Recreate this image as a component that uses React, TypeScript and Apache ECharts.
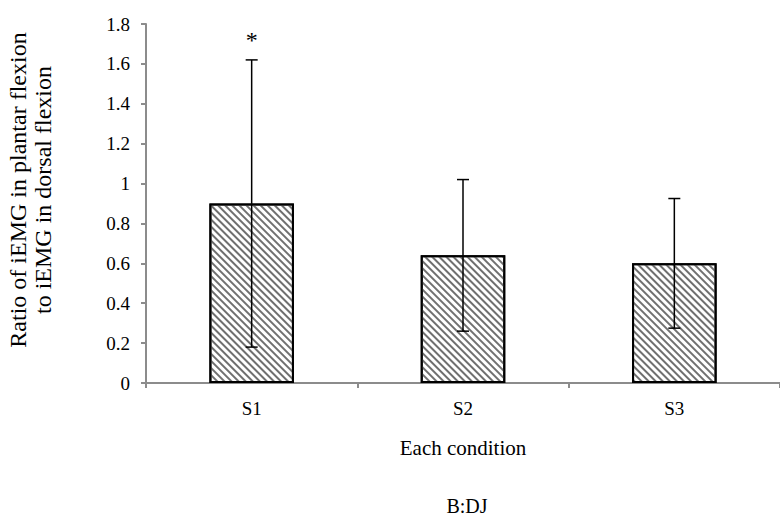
import React, { useEffect, useRef } from "react";
import * as echarts from "echarts";

const categories = ["S1", "S2", "S3"];
const means = [0.9, 0.64, 0.6];
const sds = [0.72, 0.38, 0.325];
const marks = ["*", "", ""];
const yTicks = [0, 0.2, 0.4, 0.6, 0.8, 1, 1.2, 1.4, 1.6, 1.8];
const yTitle = ["Ratio of iEMG in plantar flexion", "to iEMG in dorsal flexion"];
const xTitle = "Each condition";
const panelLabel = "B:DJ";

const FONT = "'Liberation Serif', 'Times New Roman', serif";

export default function App() {
  const ref = useRef<HTMLDivElement>(null);

  useEffect(() => {
    if (!ref.current) return;
    const chart = echarts.init(ref.current, undefined, { renderer: "svg" });

    const errData = categories.map((_, i) => [i, means[i] - sds[i], means[i] + sds[i], i]);

    chart.setOption({
      animation: false,
      backgroundColor: "#ffffff",
      textStyle: { fontFamily: FONT },
      grid: { left: 146, right: -8, top: 24, bottom: 139, containLabel: false },
      title: {
        text: panelLabel,
        left: 467,
        top: 496,
        padding: 0,
        textAlign: "center",
        textStyle: { fontFamily: FONT, fontSize: 20, fontWeight: "normal", color: "#000" },
      },
      graphic: [
        {
          type: "text",
          x: 30,
          y: 190,
          rotation: Math.PI / 2,
          style: {
            text: yTitle.join("\n"),
            textAlign: "center",
            textVerticalAlign: "middle",
            fontFamily: FONT,
            fontSize: 24,
            lineHeight: 25,
            fill: "#000",
          },
        },
        {
          type: "line",
          shape: { x1: 141, y1: 383, x2: 147, y2: 383 },
          style: { stroke: "#8c8c8c", lineWidth: 2 },
        },
      ],
      xAxis: {
        type: "category",
        data: categories,
        name: xTitle,
        nameLocation: "middle",
        nameGap: 54,
        nameTextStyle: { fontFamily: FONT, fontSize: 21, color: "#000" },
        axisLine: { lineStyle: { color: "#8c8c8c", width: 2 } },
        axisTick: { show: true, length: 5, lineStyle: { color: "#8c8c8c", width: 2 } },
        axisLabel: { fontFamily: FONT, fontSize: 19, color: "#000", margin: 16 },
        splitLine: { show: false },
      },
      yAxis: {
        type: "value",
        min: 0,
        max: 1.8,
        interval: 0.2,
        axisLine: { show: true, lineStyle: { color: "#8c8c8c", width: 2 } },
        axisTick: { show: true, length: 5, lineStyle: { color: "#8c8c8c", width: 2 } },
        axisLabel: {
          fontFamily: FONT,
          fontSize: 19,
          color: "#000",
          margin: 16,
          formatter: (v: number) => {
            const t = yTicks.find((k) => Math.abs(k - v) < 1e-6);
            return t === undefined ? "" : String(Math.round(t * 10) / 10);
          },
        },
        splitLine: { show: false },
      },
      series: [
        {
          type: "bar",
          data: means,
          barWidth: "40%",
          itemStyle: {
            color: "#ffffff",
            borderColor: "#000",
            borderWidth: 2,
            decal: {
              symbol: "rect",
              symbolSize: 1,
              rotation: Math.PI / 4,
              color: "#707070",
              dashArrayX: [1, 0],
              dashArrayY: [1.6, 2.8],
            },
          },
          z: 2,
        },
        {
          type: "custom",
          data: errData,
          z: 5,
          renderItem: (params: any, api: any) => {
            const x = api.value(0);
            const lo = api.coord([x, api.value(1)]);
            const hi = api.coord([x, api.value(2)]);
            const idx = api.value(3);
            const cap = 6;
            const children: any[] = [
              { type: "line", shape: { x1: lo[0], y1: lo[1], x2: hi[0], y2: hi[1] }, style: { stroke: "#000", lineWidth: 1.5 } },
              { type: "line", shape: { x1: hi[0] - cap, y1: hi[1], x2: hi[0] + cap, y2: hi[1] }, style: { stroke: "#000", lineWidth: 1.5 } },
              { type: "line", shape: { x1: lo[0] - cap, y1: lo[1], x2: lo[0] + cap, y2: lo[1] }, style: { stroke: "#000", lineWidth: 1.5 } },
            ];
            const m = marks[idx];
            if (m) {
              children.push({
                type: "text",
                style: {
                  text: m,
                  x: hi[0],
                  y: hi[1] - 20,
                  textAlign: "center",
                  textVerticalAlign: "middle",
                  fontFamily: FONT,
                  fontSize: 24,
                  fill: "#000",
                },
              });
            }
            return { type: "group", children };
          },
        },
      ],
    });

    return () => chart.dispose();
  }, []);

  return <div ref={ref} style={{ position: "fixed", left: 0, top: 0, width: 780, height: 522 }} />;
}
